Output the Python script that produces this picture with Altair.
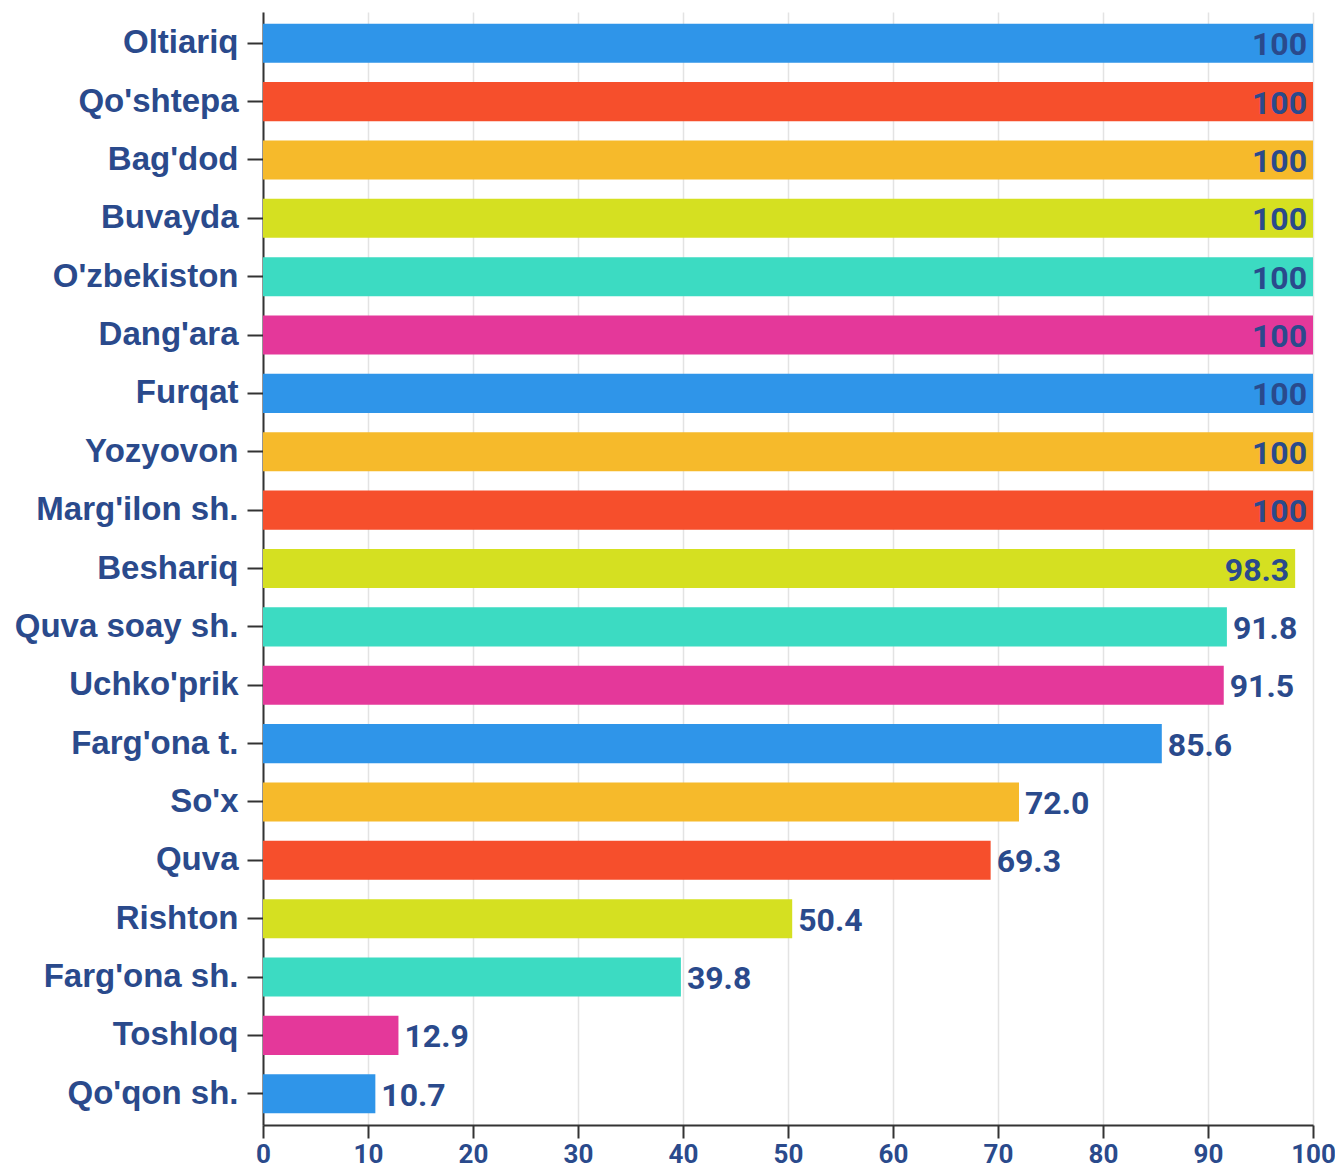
import altair as alt
import pandas as pd

categories = ["Oltiariq", "Qo'shtepa", "Bag'dod", "Buvayda", "O'zbekiston", "Dang'ara",
              "Furqat", "Yozyovon", "Marg'ilon sh.", "Beshariq", "Quva soay sh.", "Uchko'prik",
              "Farg'ona t.", "So'x", "Quva", "Rishton", "Farg'ona sh.", "Toshloq", "Qo'qon sh."]
values = [100, 100, 100, 100, 100, 100, 100, 100, 100, 98.3, 91.8, 91.5, 85.6, 72.0, 69.3,
          50.4, 39.8, 12.9, 10.7]
colors = ["#2F95E9", "#F64F2C", "#F6BA2B", "#D5E021", "#3CDBC2", "#E4389A",
          "#2F95E9", "#F6BA2B", "#F64F2C", "#D5E021", "#3CDBC2", "#E4389A",
          "#2F95E9", "#F6BA2B", "#F64F2C", "#D5E021", "#3CDBC2", "#E4389A", "#2F95E9"]

TEXT = "#2A4A8C"

df = pd.DataFrame({"cat": categories, "val": values, "color": colors})
df["label"] = [("100" if v == 100 else f"{v:.1f}") for v in values]
df["inside"] = df["val"] >= 95

y_enc = alt.Y("cat:N", sort=categories, title=None,
              scale=alt.Scale(paddingInner=0.33, paddingOuter=0.2),
              axis=alt.Axis(labelFont="Liberation Sans", labelFontWeight="bold",
                            labelFontSize=33, labelColor=TEXT, labelPadding=9,
                            labelLimit=0,
                            tickSize=16, tickWidth=2, tickColor="#333",
                            domainColor="#333", domainWidth=2, grid=False))
x_enc = alt.X("val:Q", title=None,
              scale=alt.Scale(domain=[0, 100], nice=False),
              axis=alt.Axis(values=list(range(0, 101, 10)), labelFont="Roboto",
                            labelFontWeight="bold", labelFontSize=26, labelColor=TEXT,
                            labelPadding=3, tickSize=13, tickWidth=2, tickColor="#333",
                            domainColor="#333", domainWidth=2, grid=True,
                            gridColor="#e3e3e3", gridWidth=1.5, labelFlush=False))

bars = alt.Chart(df).mark_bar().encode(
    y=y_enc, x=x_enc,
    color=alt.Color("color:N", scale=None),
)

txt_in = alt.Chart(df).transform_filter("datum.inside").mark_text(
    align="right", baseline="middle", dx=-6, dy=2, font="Roboto", fontWeight="bold",
    fontSize=32, color=TEXT
).encode(y=alt.Y("cat:N", sort=categories), x="val:Q", text="label:N")

txt_out = alt.Chart(df).transform_filter("!datum.inside").mark_text(
    align="left", baseline="middle", dx=6, dy=2, font="Roboto", fontWeight="bold",
    fontSize=32, color=TEXT
).encode(y=alt.Y("cat:N", sort=categories), x="val:Q", text="label:N")

chart = alt.layer(bars, txt_in, txt_out).properties(
    width=1050, height=1113,
    autosize=alt.AutoSizeParams(type="none"),
    padding={"left": 255, "top": 4, "right": 22, "bottom": 43},
).configure_view(stroke=None)

chart.save("out.html", embed_options={"renderer": "svg", "actions": False})
